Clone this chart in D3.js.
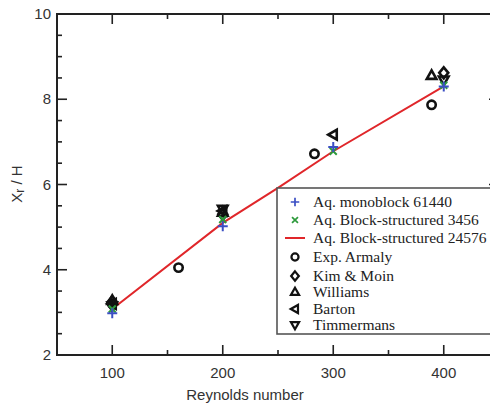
<!DOCTYPE html>
<html>
<head>
<meta charset="utf-8">
<script src="https://cdn.jsdelivr.net/npm/d3@7"></script>
<style>
body { margin: 0; background: #fff; }
</style>
</head>
<body>
<div class="chart"></div>
<script>
// values
var reSim = [100, 200, 300, 400];
var monoblock = [2.98, 5.02, 6.88, 8.30];
var block3456 = [3.08, 5.18, 6.78, 8.33];
var reLine = [100, 200, 250, 300, 400];
var block24576 = [3.08, 5.10, 5.92, 6.78, 8.30];

var armaly = [[100, 3.2], [160, 4.05], [283, 6.72], [389, 7.87]];
var kimMoin = [[100, 3.25], [200, 5.30], [400, 8.62]];
var williams = [[100, 3.28], [200, 5.35], [389, 8.56]];
var barton = [[100, 3.2], [200, 5.38], [300, 7.17]];
var timmermans = [[100, 3.15], [200, 5.42], [400, 8.45]];

var xTicks = [100, 200, 300, 400];
var yTicks = [2, 4, 6, 8, 10];
var legendLabels = ["Aq. monoblock 61440", "Aq. Block-structured 3456", "Aq. Block-structured 24576",
  "Exp. Armaly", "Kim & Moin", "Williams", "Barton", "Timmermans"];

var W = 490, H = 406;
var svg = d3.select(".chart").append("svg").attr("width", W).attr("height", H);

var x = d3.scaleLinear().domain([50, 450]).range([57, 499]);
var y = d3.scaleLinear().domain([2, 10]).range([355, 14]);

var axisCol = "#222";

//ticks point inward on all four sides
function drawTicks(vals, isMajor, orient) {
  vals.forEach(function(v) {
    var len = isMajor ? 10 : 5;
    var l;
    if (orient === "bottom") l = [x(v), 355, x(v), 355 - len];
    if (orient === "top") l = [x(v), 14, x(v), 14 + len];
    if (orient === "left") l = [57, y(v), 57 + len, y(v)];
    if (orient === "right") l = [499, y(v), 499 - len, y(v)];
    svg.append("line").attr("x1", l[0]).attr("y1", l[1]).attr("x2", l[2]).attr("y2", l[3])
      .attr("stroke", axisCol).attr("stroke-width", 1.6);
  });
}
["bottom", "top"].forEach(function(o) {
  drawTicks(xTicks, true, o);
  drawTicks([150, 250, 350], false, o);
});
["left", "right"].forEach(function(o) {
  drawTicks(yTicks, true, o);
  drawTicks(d3.range(2.5, 10, 1), false, o);
  drawTicks(d3.range(3, 10, 2), false, o);
});

// frame
svg.append("rect").attr("x", 57).attr("y", 14).attr("width", 442).attr("height", 341)
  .attr("fill", "none").attr("stroke", axisCol).attr("stroke-width", 2);

// tick labels
svg.selectAll(".xl").data(xTicks).enter().append("text")
  .attr("x", function(d){ return x(d); }).attr("y", 378)
  .attr("text-anchor", "middle").attr("font-family", "Liberation Sans, Arial, sans-serif")
  .attr("font-size", 15).attr("fill", "#333").text(function(d){ return d; });
svg.selectAll(".yl").data(yTicks).enter().append("text")
  .attr("x", 51).attr("y", function(d){ return y(d) + 5; })
  .attr("text-anchor", "end").attr("font-family", "Liberation Sans, Arial, sans-serif")
  .attr("font-size", 15).attr("fill", "#333").text(function(d){ return d; });

svg.append("text").attr("x", 245).attr("y", 400).attr("text-anchor", "middle")
  .attr("font-family", "Liberation Sans, Arial, sans-serif").attr("font-size", 15).attr("fill", "#333")
  .text("Reynolds number");
var yt = svg.append("text").attr("transform", "translate(22,184) rotate(-90)").attr("text-anchor", "middle")
  .attr("font-family", "Liberation Sans, Arial, sans-serif").attr("font-size", 15).attr("fill", "#333");
yt.append("tspan").text("X");
yt.append("tspan").attr("font-size", 12).attr("dy", 2).text("r");
yt.append("tspan").attr("dy", -2).text(" / H");

// red line
svg.append("path").datum(d3.zip(reLine, block24576))
  .attr("d", d3.line().x(function(d){ return x(d[0]); }).y(function(d){ return y(d[1]); }))
  .attr("fill", "none").attr("stroke", "#e0262a").attr("stroke-width", 2);

// marker paths
function marker(kind) {
  if (kind === "circle") return d3.symbol().type(d3.symbolCircle).size(55)();
  if (kind === "diamond") return "M0,-5.5L4.5,0L0,5.5L-4.5,0Z";
  if (kind === "up") return "M0,-5L4.8,3.5L-4.8,3.5Z";
  if (kind === "down") return "M0,5L4.8,-3.5L-4.8,-3.5Z";
  if (kind === "left") return "M-5,0L3.5,-4.8L3.5,4.8Z";
  if (kind === "plus") return "M-5,0H5M0,-5V5";
  if (kind === "cross") return "M-3.5,-3.5L3.5,3.5M-3.5,3.5L3.5,-3.5";
}
var styles = [
  {kind: "plus", color: "#3b4fc4", w: 2},
  {kind: "cross", color: "#2e9a3c", w: 2},
  {kind: "line", color: "#e0262a", w: 2},
  {kind: "circle", color: "#111", w: 2.6},
  {kind: "diamond", color: "#111", w: 2.6},
  {kind: "up", color: "#111", w: 2.6},
  {kind: "left", color: "#111", w: 2.6},
  {kind: "down", color: "#111", w: 2.6}
];

function drawSeries(pts, st) {
  svg.append("g").selectAll("path").data(pts).enter().append("path")
    .attr("transform", function(d){ return "translate(" + x(d[0]) + "," + y(d[1]) + ")"; })
    .attr("d", marker(st.kind)).attr("fill", "none")
    .attr("stroke", st.color).attr("stroke-width", st.w);
}
drawSeries(armaly, styles[3]);
drawSeries(kimMoin, styles[4]);
drawSeries(williams, styles[5]);
drawSeries(barton, styles[6]);
drawSeries(timmermans, styles[7]);
drawSeries(d3.zip(reSim, block3456), styles[1]);
drawSeries(d3.zip(reSim, monoblock), styles[0]);

// legend
var lg = svg.append("g");
lg.append("rect").attr("x", 277).attr("y", 188).attr("width", 220).attr("height", 146)
  .attr("fill", "#fff").attr("stroke", "#555").attr("stroke-width", 1.6);
var rowY = [202, 220, 238, 257, 276, 292, 309, 325];
legendLabels.forEach(function(t, i) {
  var st = styles[i];
  if (st.kind === "line") {
    lg.append("line").attr("x1", 285).attr("x2", 305).attr("y1", rowY[i]).attr("y2", rowY[i])
      .attr("stroke", st.color).attr("stroke-width", 2);
  } else {
    lg.append("path").attr("transform", "translate(295," + rowY[i] + ") scale(0.85)")
      .attr("d", marker(st.kind)).attr("fill", "none")
      .attr("stroke", st.color).attr("stroke-width", st.w);
  }
  lg.append("text").attr("x", 313).attr("y", rowY[i] + 5)
    .attr("font-family", "Liberation Serif, Times New Roman, serif").attr("font-size", 15.5)
    .attr("fill", "#222").text(t);
});
</script>
</body>
</html>
